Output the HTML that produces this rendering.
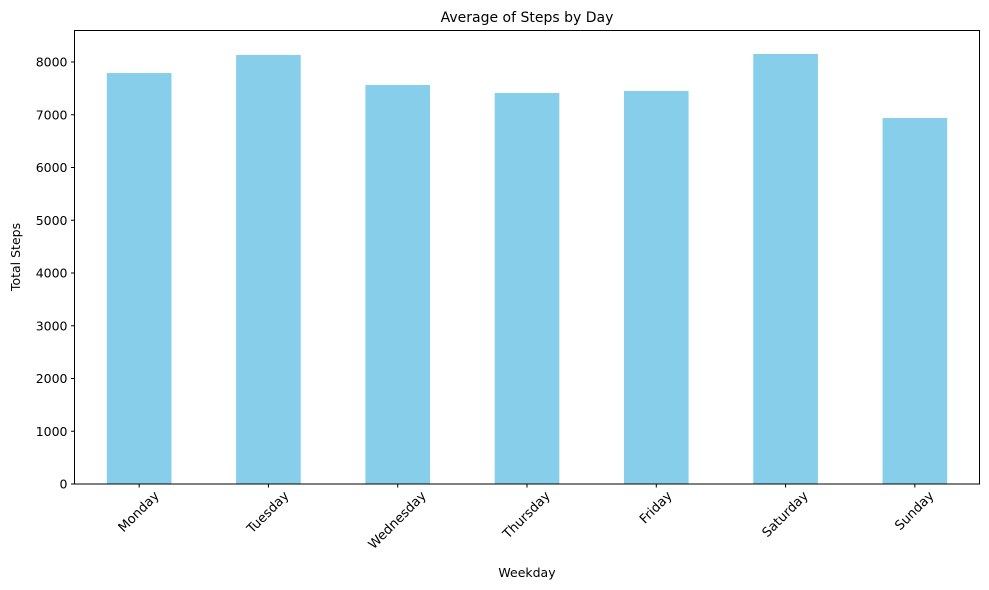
<!DOCTYPE html>
<html><head><meta charset="utf-8"><style>
html,body{margin:0;padding:0;background:#fff;}
svg{display:block;font-family:"DejaVu Sans","Liberation Sans",sans-serif;}
</style></head><body>
<svg id="chart" width="989" height="590" viewBox="0 0 989 590">
<text x="527" y="22" font-size="14" text-anchor="middle" fill="#000">Average of Steps by Day</text>
<g id="bars"></g>
<g id="yaxis"></g>
<g id="xaxis"></g>
<rect x="74.5" y="30.5" width="905" height="453.5" fill="none" stroke="#000" stroke-width="1"/>
<text x="527" y="577" font-size="12.5" text-anchor="middle">Weekday</text>
<text transform="translate(20,257) rotate(-90)" font-size="12.5" text-anchor="middle">Total Steps</text>
</svg>
<script>
const categories=["Monday","Tuesday","Wednesday","Thursday","Friday","Saturday","Sunday"];
const values=[7791,8133,7564,7412,7450,8152,6938];
const yTicks=[0,1000,2000,3000,4000,5000,6000,7000,8000];
const NS="http://www.w3.org/2000/svg";
const L=74.5,R=979.5,T=30.5,B=484;
const yScale=v=>B-v*(B-62)/8000;
const band=(R-L)/categories.length;
const xScale=i=>L+band*(i+0.5);
function mk(tag,attrs,parent){const e=document.createElementNS(NS,tag);for(const k in attrs)e.setAttribute(k,attrs[k]);parent.appendChild(e);return e;}
const bars=document.getElementById('bars'),ya=document.getElementById('yaxis'),xa=document.getElementById('xaxis');
values.forEach((v,i)=>{
  const w=band*0.5;
  const r=mk('rect',{x:xScale(i)-w/2,y:yScale(v),width:w,height:B-yScale(v),fill:'#87ceeb'},bars);
  
  
});
yTicks.forEach(t=>{
  const y=yScale(t);
  const l=mk('line',{x1:L-3.5,x2:L,y1:y,y2:y,stroke:'#000'},ya);
  
  
  const tx=mk('text',{x:L-7,y:y+4.5,'font-size':12.5,'text-anchor':'end'},ya);
  tx.textContent=t;
  
  
});
categories.forEach((c,i)=>{
  const x=xScale(i);
  const l=mk('line',{x1:x,x2:x,y1:B,y2:B+3.5,stroke:'#000'},xa);
  
  
  const tx=mk('text',{x:0,y:0,'font-size':13,'text-anchor':'middle','dominant-baseline':'central'},xa);
  tx.textContent=c;
  
  
  const len=tx.getComputedTextLength();
  const yc=B+6+len*0.354+4;
  tx.setAttribute('transform','translate('+x+','+yc+') rotate(-45)');
});
</script>
</body></html>
